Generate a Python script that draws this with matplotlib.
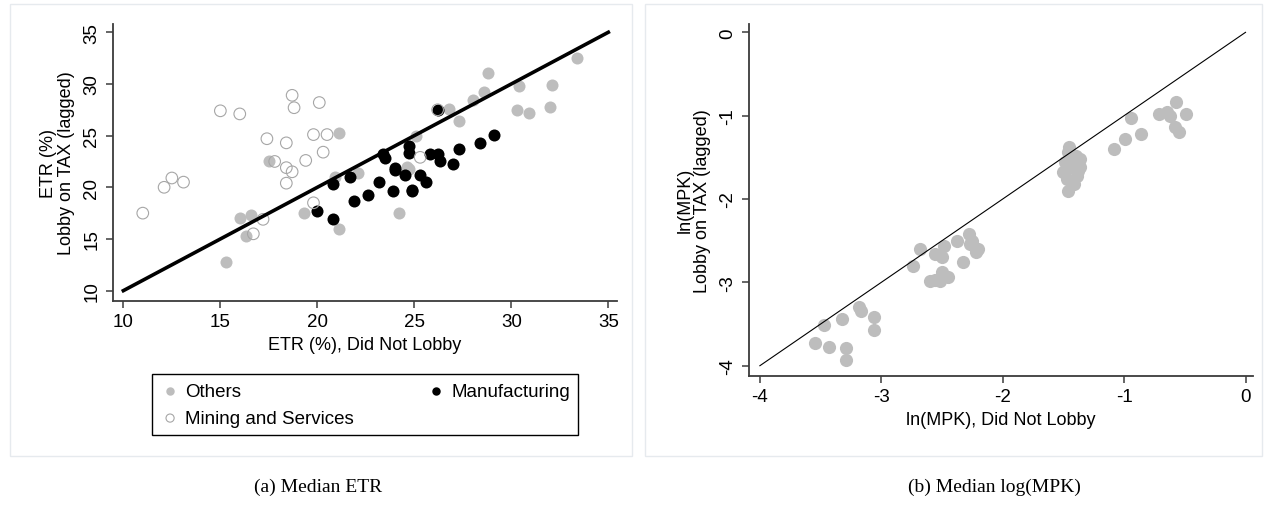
import matplotlib.pyplot as plt
from matplotlib.patches import Rectangle

# -----------------------------------------------------------
# Data: (a) Median ETR
# -----------------------------------------------------------
others_x = [15.3, 16.0, 16.6, 16.3, 19.3, 21.1, 20.9, 22.1, 24.2, 21.1, 17.5,
            28.8, 33.4, 30.4, 32.1, 30.3, 30.9, 32.0, 28.6, 28.0, 26.8, 27.3,
            25.1, 24.6, 24.7]
others_y = [12.8, 17.0, 17.3, 15.3, 17.5, 16.0, 21.0, 21.4, 17.5, 25.3, 22.5,
            31.1, 32.5, 29.8, 29.9, 27.5, 27.2, 27.8, 29.2, 28.4, 27.6, 26.4,
            25.0, 22.0, 21.8]

mining_x = [11.0, 12.1, 12.5, 13.1, 17.2, 16.7, 19.8, 18.4, 18.7, 15.0, 16.0,
            18.7, 18.8, 20.1, 17.4, 18.4, 19.8, 20.5, 20.3, 19.4, 17.8, 18.4,
            25.3, 26.2]
mining_y = [17.5, 20.0, 20.9, 20.5, 16.9, 15.5, 18.5, 20.4, 21.5, 27.4, 27.1,
            28.9, 27.7, 28.2, 24.7, 24.3, 25.1, 25.1, 23.4, 22.6, 22.5, 21.9,
            22.9, 27.5]

manuf_x = [20.0, 20.8, 20.8, 21.7, 21.9, 22.6, 23.2, 23.9, 24.0, 24.9, 25.3,
           25.6, 24.5, 26.2, 29.1, 28.4, 27.3, 27.0, 26.3, 26.2, 25.8, 24.7,
           24.7, 23.4, 23.5, 24.0, 24.9]
manuf_y = [17.7, 16.9, 20.3, 21.0, 18.7, 19.3, 20.5, 19.6, 21.7, 19.6, 21.2,
           20.5, 21.2, 27.5, 25.1, 24.3, 23.7, 22.3, 22.5, 23.2, 23.2, 24.0,
           23.3, 23.2, 22.8, 21.9, 19.7]

etr_line = [10, 35]

# -----------------------------------------------------------
# Data: (b) Median log(MPK)
# -----------------------------------------------------------
mpk_x = [-3.55, -3.43, -3.29, -3.29, -3.47, -3.32, -3.18, -3.17, -3.06, -3.06,
         -2.74, -2.68, -2.60, -2.52, -2.45, -2.50, -2.56, -2.50, -2.48, -2.38,
         -2.33, -2.28, -2.27, -2.22, -2.56, -2.25, -2.20,
         -1.42, -1.46, -1.36, -1.50, -1.39, -1.46, -1.41, -1.36, -1.49, -1.45,
         -1.40, -1.44, -1.38, -1.47,
         -1.08, -0.99, -0.86, -0.94, -0.71, -0.65, -0.57, -0.49, -0.58, -0.55,
         -0.62]
mpk_y = [-3.73, -3.78, -3.79, -3.93, -3.51, -3.44, -3.30, -3.34, -3.42, -3.57,
         -2.80, -2.60, -2.98, -2.98, -2.94, -2.88, -2.66, -2.70, -2.56, -2.50,
         -2.76, -2.42, -2.54, -2.64, -2.97, -2.50, -2.60,
         -1.56, -1.44, -1.52, -1.68, -1.72, -1.90, -1.82, -1.62, -1.56, -1.38,
         -1.48, -1.62, -1.66, -1.76,
         -1.40, -1.28, -1.22, -1.03, -0.98, -0.96, -0.83, -0.98, -1.14, -1.20,
         -1.00]

mpk_line = [-4, 0]

GRAY = "#bdbdbd"
SPINE = "#3c3c3c"
SANS = ["Liberation Sans", "DejaVu Sans"]
SERIF = ["Liberation Serif", "DejaVu Serif"]

plt.rcParams["font.family"] = SANS
plt.rcParams["axes.unicode_minus"] = False

fig = plt.figure(figsize=(12.72, 5.06), dpi=100)


def style_axis(ax):
    for side in ["top", "right"]:
        ax.spines[side].set_visible(False)
    for side in ["left", "bottom"]:
        ax.spines[side].set_color(SPINE)
        ax.spines[side].set_linewidth(1.3)
    ax.tick_params(direction="out", length=5, width=1.1, color=SPINE,
                   labelsize=13.5, pad=4)
    for lab in ax.get_yticklabels():
        lab.set_rotation(90)
        lab.set_va("center")


# -----------------------------------------------------------
# Panel (a)
# -----------------------------------------------------------
ax1 = fig.add_axes([0.0886, 0.4038, 0.3962, 0.5468])
ax1.scatter(others_x, others_y, s=75, color=GRAY, linewidths=0, zorder=2,
            label="Others")
ax1.scatter(manuf_x, manuf_y, s=75, color="black", linewidths=0, zorder=3,
            label="Manufacturing")
ax1.scatter(mining_x, mining_y, s=70, facecolors="none", edgecolors="#a6a6a6",
            linewidths=0.8, zorder=4, label="Mining and Services")
ax1.plot(etr_line, etr_line, color="black", lw=2.6, zorder=5)
ax1.set_xlim(9.45, 35.43)
ax1.set_ylim(9.03, 35.8)
ax1.set_xticks([10, 15, 20, 25, 30, 35])
ax1.set_yticks([10, 15, 20, 25, 30, 35])
style_axis(ax1)
ax1.set_xlabel("ETR (%), Did Not Lobby", fontsize=13, labelpad=4)
ax1.set_ylabel("ETR (%)\nLobby on TAX (lagged)", fontsize=13, labelpad=6,
               linespacing=1.05)

handles, labels = ax1.get_legend_handles_labels()
order = [0, 2, 1]  # Others, Mining (col 1) / Manufacturing (col 2)
leg = fig.legend([handles[i] for i in order], [labels[i] for i in order],
                 ncol=2, loc="upper left",
                 bbox_to_anchor=(0.1197, 0.2589, 0.3349, 0.0),
                 mode="expand", borderaxespad=0, fontsize=13.5,
                 markerscale=0.7, handletextpad=0.3, handlelength=1.0,
                 labelspacing=0.55, borderpad=0.45, fancybox=False,
                 edgecolor="black", framealpha=1)
leg.get_frame().set_linewidth(1.0)

# -----------------------------------------------------------
# Panel (b)
# -----------------------------------------------------------
ax2 = fig.add_axes([0.5888, 0.2555, 0.3962, 0.6951])
ax2.scatter(mpk_x, mpk_y, s=90, color=GRAY, linewidths=0, zorder=2)
ax2.plot(mpk_line, mpk_line, color="black", lw=0.8, zorder=3)
ax2.set_xlim(-4.09, 0.061)
ax2.set_ylim(-4.12, 0.10)
ax2.set_xticks([-4, -3, -2, -1, 0])
ax2.set_yticks([-4, -3, -2, -1, 0])
style_axis(ax2)
ax2.set_xlabel("ln(MPK), Did Not Lobby", fontsize=13, labelpad=4)
ax2.set_ylabel("ln(MPK)\nLobby on TAX (lagged)", fontsize=13, labelpad=6,
               linespacing=1.05)

# faint panel borders
for x0, x1 in [(10, 632), (645, 1262)]:
    fig.patches.append(Rectangle((x0 / 1272, 1 - 457 / 506),
                                 (x1 - x0) / 1272, (457 - 5) / 506,
                                 transform=fig.transFigure, fill=False,
                                 edgecolor="#e6eaee", lw=1.0))

# captions
fig.text(0.25, 0.037, "(a) Median ETR", ha="center", va="center",
         fontsize=14, family=SERIF)
fig.text(0.782, 0.037, "(b) Median log(MPK)", ha="center", va="center",
         fontsize=14, family=SERIF)

fig.savefig("out.png", dpi=100)
